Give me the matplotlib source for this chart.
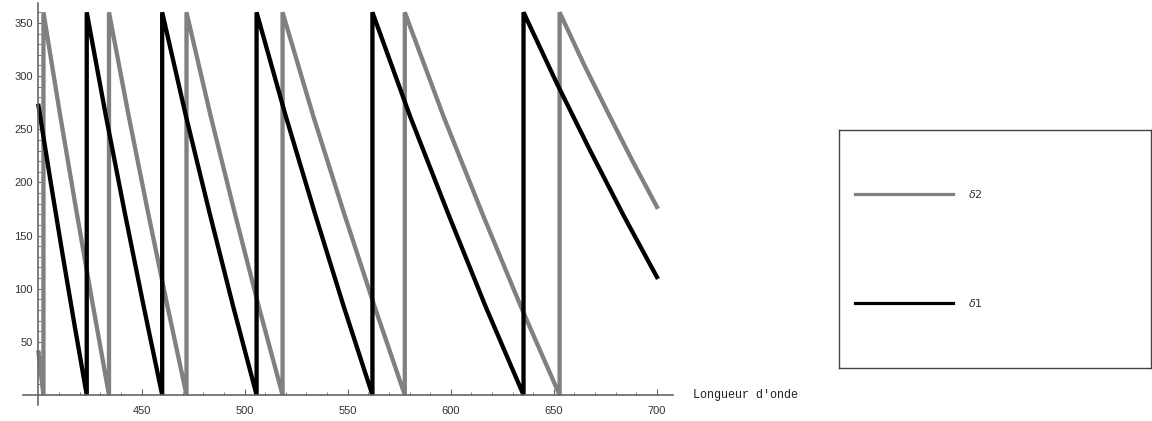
import matplotlib.pyplot as plt
from matplotlib.ticker import FixedLocator

# Phase delta1 (black) vs wavelength
d1_x = [400, 405.85, 411.7, 417.55, 423.4,
        423.4, 432.55, 441.7, 450.85, 460.0,
        460.0, 471.45, 482.9, 494.35, 505.8,
        505.8, 519.85, 533.9, 547.95, 562.0,
        562.0, 580.3, 598.65, 616.95, 635.3,
        635.3, 651.5, 667.6, 683.8, 700]
d1_y = [272, 201, 132, 65, 0,
        360, 264, 173, 85, 0,
        360, 263, 172, 84, 0,
        360, 263, 172, 84, 0,
        360, 262, 171, 83, 0,
        360, 293, 230, 169, 111]

# Phase delta2 (gray)
d2_x = [400, 402.4,
        402.4, 410.35, 418.3, 426.25, 434.2,
        434.2, 443.6, 453.0, 462.4, 471.8,
        471.8, 483.45, 495.1, 506.75, 518.4,
        518.4, 533.2, 548.05, 562.9, 577.7,
        577.7, 596.5, 615.25, 634.05, 652.8,
        652.8, 664.6, 676.4, 688.2, 700]
d2_y = [40, 0,
        360, 265, 174, 86, 0,
        360, 264, 173, 85, 0,
        360, 263, 172, 84, 0,
        360, 263, 172, 84, 0,
        360, 262, 171, 83, 0,
        360, 311, 265, 220, 177]

x_ticks = [450, 500, 550, 600, 650, 700]
y_ticks = [50, 100, 150, 200, 250, 300, 350]

fig = plt.figure(figsize=(11.52, 4.21), dpi=100)
ax = fig.add_axes([0.020, 0.038, 0.564, 0.955])

ax.plot(d2_x, d2_y, color='#808080', lw=3.1, solid_joinstyle='miter')
ax.plot(d1_x, d1_y, color='black', lw=3.1, solid_joinstyle='miter')

ax.set_xlim(392.5, 707.7)
ax.set_ylim(-9.4, 368.8)

# Mathematica style axes crossing at (400, 0)
for s in ['top', 'right']:
    ax.spines[s].set_visible(False)
ax.spines['left'].set_position(('data', 400))
ax.spines['bottom'].set_position(('data', 0))
for s in ['left', 'bottom']:
    ax.spines[s].set_color('#666666')
    ax.spines[s].set_linewidth(1.2)

ax.xaxis.set_major_locator(FixedLocator(x_ticks))
ax.yaxis.set_major_locator(FixedLocator(y_ticks))
ax.xaxis.set_minor_locator(FixedLocator([v for v in range(410, 701, 10) if v % 50]))
ax.yaxis.set_minor_locator(FixedLocator([v for v in range(10, 361, 10) if v % 50]))
ax.tick_params(which='major', direction='in', length=4, width=0.8, color='#666666',
               labelsize=8, labelcolor='#333333')
ax.tick_params(which='minor', direction='in', length=2, width=0.6, color='#666666')
ax.tick_params(axis='x', pad=8)
ax.tick_params(axis='y', pad=4)
for lab in ax.get_xticklabels() + ax.get_yticklabels():
    lab.set_family('Liberation Sans')

ax.text(1.031, 0, "Longueur d'onde", transform=ax.get_yaxis_transform(),
        ha='left', va='center', fontsize=8.5, family='Liberation Mono', color='#222222')

# Legend box
lg = fig.add_axes([0.728, 0.126, 0.271, 0.565])
lg.set_xlim(0, 1)
lg.set_ylim(0, 1)
lg.set_xticks([])
lg.set_yticks([])
for s in lg.spines.values():
    s.set_color('#444444')
    s.set_linewidth(1.0)
lg.plot([0.051, 0.365], [0.731, 0.731], color='#808080', lw=2.3)
lg.plot([0.051, 0.365], [0.273, 0.273], color='black', lw=2.3)
lg.text(0.413, 0.731, r'$\delta$2', ha='left', va='center', fontsize=8, color='#333333')
lg.text(0.413, 0.273, r'$\delta$1', ha='left', va='center', fontsize=8, color='#333333')

plt.savefig('out.png', dpi=100)
plt.close()
